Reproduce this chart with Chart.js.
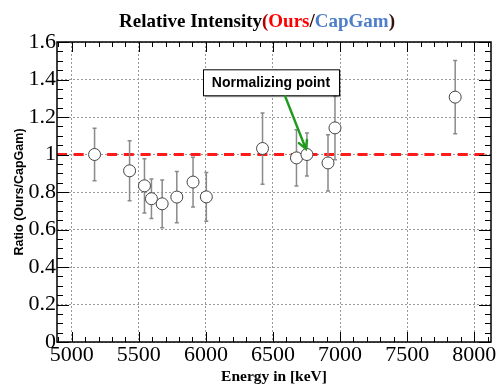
<!DOCTYPE html>
<html>
<head>
<meta charset="utf-8">
<script src="https://cdn.jsdelivr.net/npm/chart.js@4.4.1/dist/chart.umd.min.js"></script>
<style>
html, body { margin: 0; padding: 0; background: #fff; }
#wrap { width: 498px; height: 385px; }
</style>
</head>
<body>
<div id="wrap"><canvas id="ratioChart" width="498" height="385"></canvas></div>
<script>
// measured points (keV), ratio Ours/CapGam and its error
var energies = [5170, 5431, 5542, 5594, 5674, 5783, 5904, 6003, 6422, 6675, 6753, 6910, 6962, 7858];
var ratios = [1.00, 0.913, 0.833, 0.764, 0.737, 0.773, 0.853, 0.774, 1.032, 0.982, 1.00, 0.955, 1.142, 1.306];
var ratioErrors = [0.14, 0.16, 0.145, 0.105, 0.127, 0.137, 0.133, 0.13, 0.19, 0.15, 0.115, 0.15, 0.17, 0.195];

var xTicks = [5000, 5500, 6000, 6500, 7000, 7500, 8000];
var xTickLabels = ['5000', '5500', '6000', '6500', '7000', '7500', '8000'];
var yTicks = [0, 0.2, 0.4, 0.6, 0.8, 1.0, 1.2, 1.4, 1.6];
var yTickLabels = ['0', '0.2', '0.4', '0.6', '0.8', '1', '1.2', '1.4', '1.6'];

var xMin = 4890, xMax = 8125;
var yMin = 0, yMax = 1.6;
var referenceRatio = 1.0;

// annotation, in data units
var noteText = 'Normalizing point';
var noteCenter = {x: 6485, y: 1.385};
var arrowFrom = {x: 6591, y: 1.31};
var arrowTo = {x: 6745, y: 1.03};

var points = energies.map(function (e, i) { return {x: e, y: ratios[i]}; });

var errorBars = {
    id: 'errorBars',
    beforeDatasetDraw: function (chart, args) {
        if (args.index !== 0) return;
        var ctx = chart.ctx, xs = chart.scales.x, ys = chart.scales.y;
        ctx.save();
        ctx.strokeStyle = '#8a8a8a';
        ctx.lineWidth = 1.5;
        energies.forEach(function (e, i) {
            var px = xs.getPixelForValue(e);
            var top = ys.getPixelForValue(ratios[i] + ratioErrors[i]);
            var bot = ys.getPixelForValue(ratios[i] - ratioErrors[i]);
            ctx.beginPath();
            ctx.moveTo(px, top); ctx.lineTo(px, bot);
            ctx.moveTo(px - 2, top); ctx.lineTo(px + 2, top);
            ctx.moveTo(px - 2, bot); ctx.lineTo(px + 2, bot);
            ctx.stroke();
        });
        ctx.restore();
    }
};

var frameAndText = {
    id: 'frameAndText',
    afterDatasetsDraw: function (chart) {
        var ctx = chart.ctx, a = chart.chartArea, xs = chart.scales.x, ys = chart.scales.y;
        ctx.save();
        // ticks, ROOT style (inside the frame, on all four sides)
        ctx.strokeStyle = '#000';
        ctx.lineWidth = 1;
        ctx.beginPath();
        var v, px, len;
        for (v = 4900; v <= xMax; v += 100) {
            px = Math.round(xs.getPixelForValue(v)) + 0.5;
            len = (v % 500 === 0) ? 10 : 5;
            ctx.moveTo(px, a.bottom); ctx.lineTo(px, a.bottom - len);
            ctx.moveTo(px, a.top); ctx.lineTo(px, a.top + len);
        }
        for (var k = 0; k <= 32; k++) {
            v = k * 0.05;
            var py = Math.round(ys.getPixelForValue(v)) + 0.5;
            len = (k % 4 === 0) ? 12 : 6;
            ctx.moveTo(a.left, py); ctx.lineTo(a.left + len, py);
            ctx.moveTo(a.right, py); ctx.lineTo(a.right - len, py);
        }
        ctx.stroke();
        ctx.lineWidth = 1.5;
        ctx.strokeRect(a.left, a.top, a.right - a.left, a.bottom - a.top);

        // annotation box
        var cx = xs.getPixelForValue(noteCenter.x), cy = ys.getPixelForValue(noteCenter.y);
        var bw = 136, bh = 26;
        ctx.fillStyle = 'rgba(0,0,0,0.25)';
        ctx.fillRect(cx - bw / 2 + 2, cy - bh / 2 + 2, bw, bh);
        ctx.fillStyle = '#fff';
        ctx.fillRect(cx - bw / 2, cy - bh / 2, bw, bh);
        ctx.lineWidth = 1;
        ctx.strokeStyle = '#000';
        ctx.strokeRect(cx - bw / 2 + 0.5, cy - bh / 2 + 0.5, bw, bh);
        ctx.fillStyle = '#000';
        ctx.font = 'bold 14px "Liberation Sans"';
        ctx.textAlign = 'center';
        ctx.textBaseline = 'middle';
        ctx.fillText(noteText, cx, cy + 1);

        // green arrow to the normalizing point
        var x0 = xs.getPixelForValue(arrowFrom.x), y0 = ys.getPixelForValue(arrowFrom.y);
        var x1 = xs.getPixelForValue(arrowTo.x), y1 = ys.getPixelForValue(arrowTo.y);
        var ang = Math.atan2(y1 - y0, x1 - x0);
        ctx.strokeStyle = '#1f9a1f';
        ctx.lineWidth = 2.5;
        ctx.lineCap = 'round';
        ctx.beginPath();
        ctx.moveTo(x0, y0); ctx.lineTo(x1, y1);
        ctx.moveTo(x1 - 9 * Math.cos(ang - 0.5), y1 - 9 * Math.sin(ang - 0.5));
        ctx.lineTo(x1, y1);
        ctx.lineTo(x1 - 9 * Math.cos(ang + 0.5), y1 - 9 * Math.sin(ang + 0.5));
        ctx.stroke();

        // title with coloured parts
        var parts = [
            ['Relative Intensity', '#000'],
            ['(', '#b00000'],
            ['Ours', '#ff0000'],
            ['/', '#300'],
            ['CapGam', '#4f7fc8'],
            [')', '#311']
        ];
        ctx.font = 'bold 19px "Liberation Serif"';
        ctx.textAlign = 'left';
        ctx.textBaseline = 'alphabetic';
        var total = 0;
        parts.forEach(function (p) { total += ctx.measureText(p[0]).width; });
        var tx = 257 - total / 2;
        parts.forEach(function (p) {
            ctx.fillStyle = p[1];
            ctx.fillText(p[0], tx, 27);
            tx += ctx.measureText(p[0]).width;
        });
        ctx.restore();
    }
};

new Chart(document.getElementById('ratioChart'), {
    type: 'scatter',
    data: {
        datasets: [{
            data: points,
            order: 0,
            pointRadius: 6,
            pointHoverRadius: 6,
            pointBackgroundColor: '#fff',
            pointBorderColor: '#444',
            pointBorderWidth: 1
        }, {
            type: 'line',
            data: [{x: xMin, y: referenceRatio}, {x: xMax, y: referenceRatio}],
            order: 1,
            borderColor: '#ff1a1a',
            borderWidth: 3,
            borderDash: [10, 6.7],
            pointRadius: 0,
            fill: false
        }]
    },
    options: {
        responsive: false,
        animation: false,
        events: [],
        layout: {padding: {top: 42, right: 6, left: 0, bottom: 0}},
        plugins: {legend: {display: false}, tooltip: {enabled: false}},
        scales: {
            x: {
                type: 'linear',
                min: xMin,
                max: xMax,
                afterBuildTicks: function (s) { s.ticks = xTicks.map(function (t) { return {value: t}; }); },
                afterFit: function (s) { s.height = 43; },
                ticks: {
                    autoSkip: false,
                    maxRotation: 0,
                    padding: 0,
                    color: '#000',
                    font: {family: 'Liberation Serif', size: 22},
                    callback: function (val, i) { return xTickLabels[i]; }
                },
                grid: {color: '#999', lineWidth: 1, drawTicks: false},
                border: {display: false, dash: [2, 2]},
                title: {
                    display: true,
                    text: 'Energy in [keV]',
                    color: '#000',
                    font: {family: 'Liberation Serif', size: 15.5, weight: 'bold'},
                    padding: {top: 0, bottom: -1}
                }
            },
            y: {
                min: yMin,
                max: yMax,
                afterBuildTicks: function (s) { s.ticks = yTicks.map(function (t) { return {value: t}; }); },
                afterFit: function (s) { s.width = 57; },
                ticks: {
                    autoSkip: false,
                    padding: 1,
                    color: '#000',
                    font: {family: 'Liberation Serif', size: 22},
                    callback: function (val, i) { return yTickLabels[i]; }
                },
                grid: {color: '#999', lineWidth: 1, drawTicks: false},
                border: {display: false, dash: [2, 2]},
                title: {
                    display: true,
                    text: 'Ratio (Ours/CapGam)',
                    color: '#000',
                    font: {family: 'Liberation Sans', size: 12.5, weight: 'bold'},
                    padding: {top: 12, bottom: 0}
                }
            }
        }
    },
    plugins: [errorBars, frameAndText]
});
</script>
</body>
</html>
